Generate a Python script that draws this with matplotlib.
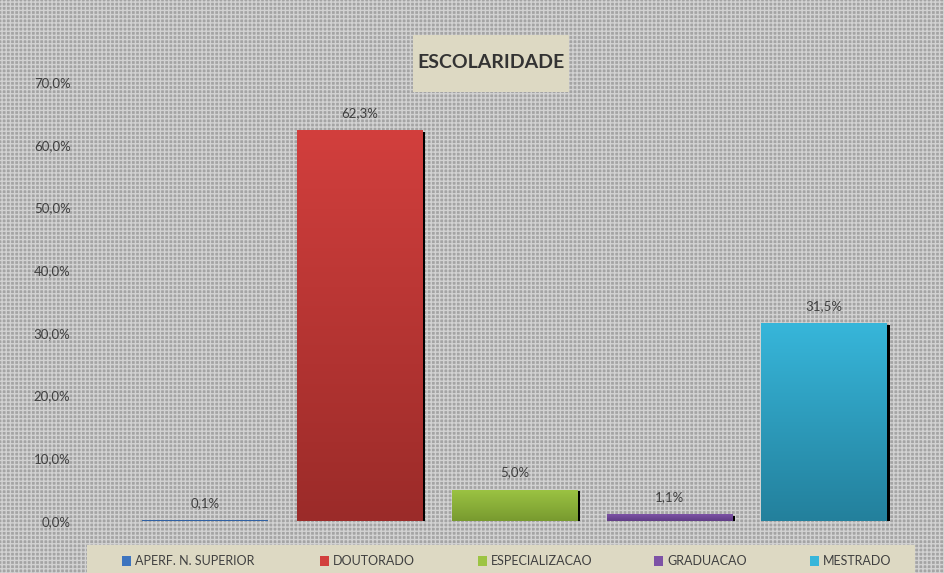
# libraries
import numpy as np
import matplotlib.pyplot as plt
from matplotlib.patches import Rectangle
from matplotlib.colors import LinearSegmentedColormap

plt.rcParams['font.family'] = ['Lato', 'DejaVu Sans']
plt.rcParams['hatch.linewidth'] = 1.0

# data
categories = ['APERF. N. SUPERIOR', 'DOUTORADO', 'ESPECIALIZACAO', 'GRADUACAO', 'MESTRADO']
values = [0.1, 62.3, 5.0, 1.1, 31.5]
value_labels = ['0,1%', '62,3%', '5,0%', '1,1%', '31,5%']
yticks = [0, 10, 20, 30, 40, 50, 60, 70]
ytick_labels = ['0,0%', '10,0%', '20,0%', '30,0%', '40,0%', '50,0%', '60,0%', '70,0%']

# gradient colours (top, bottom) for each bar
top_colors = ['#3d74bf', '#d23f3d', '#9cc443', '#7d52a6', '#37b6da']
bottom_colors = ['#2f5e9e', '#9b2b29', '#789a2f', '#603d85', '#23809c']

W, H = 945, 573
fig = plt.figure(figsize=(W / 100, H / 100), dpi=100)
fig.patch.set_facecolor('#b8b8b8')

# hatched grey background over the whole figure
bg = fig.add_axes([0, 0, 1, 1])
bg.set_axis_off()
bg.add_patch(Rectangle((0, 0), 1, 1, transform=bg.transAxes, facecolor='#a4a4a4',
                       edgecolor='#d2d2d2', hatch='++++', linewidth=0))
bg.set_xlim(0, 1)
bg.set_ylim(0, 1)

# plot area
ax = fig.add_axes([127.5 / W, (H - 521) / H, (901.5 - 127.5) / W, (521 - 82) / H])
ax.patch.set_alpha(0)
for s in ax.spines.values():
    s.set_visible(False)

x = np.arange(len(categories))
barWidth = 0.81
ax.set_xlim(-0.5, len(categories) - 0.5)
ax.set_ylim(0, 70)

shadow_dx = 0.02
for i, v in enumerate(values):
    # shadow
    ax.bar(x[i] + shadow_dx, v, width=barWidth, bottom=-0.25, color='black', zorder=2)
    bar = ax.bar(x[i], v, width=barWidth, color=top_colors[i], zorder=3)[0]
    cmap = LinearSegmentedColormap.from_list('g%d' % i, [bottom_colors[i], top_colors[i]])
    grad = np.linspace(0, 1, 256).reshape(-1, 1)
    im = ax.imshow(grad, cmap=cmap, aspect='auto', origin='lower', zorder=4,
                   extent=[x[i] - barWidth / 2, x[i] + barWidth / 2, 0, max(v, 0.3)])
    im.set_clip_path(bar)
    ax.annotate(value_labels[i], xy=(x[i], v), xytext=(0, 8), textcoords='offset points',
                ha='center', va='bottom', fontsize=9.5, color='#404040', zorder=5)

ax.set_xticks([])
ax.set_yticks(yticks)
ax.set_yticklabels(ytick_labels, fontsize=9.5, color='#404040')
ax.tick_params(axis='y', length=0, pad=41)
ax.set_aspect('auto')

# title box
bg.add_patch(Rectangle((413 / W, (H - 92) / H), (569 - 413) / W, (92 - 35) / H,
                       transform=bg.transAxes, facecolor='#ddd9c3', edgecolor='none', zorder=3))
bg.text(491 / W, (H - 63) / H, 'ESCOLARIDADE', transform=bg.transAxes, ha='center',
        va='center', fontsize=14, fontweight='bold', color='#333333', zorder=4)

# legend box
lx0, lx1, ly0, ly1 = 87, 915, 545, 573
bg.add_patch(Rectangle((lx0 / W, (H - ly1) / H), (lx1 - lx0) / W, (ly1 - ly0) / H,
                       transform=bg.transAxes, facecolor='#ddd9c3', edgecolor='none', zorder=3))
legend_x = [122, 320, 478, 654, 810]
for i, name in enumerate(categories):
    bg.add_patch(Rectangle((legend_x[i] / W, (H - 566) / H), 9 / W, 10 / H,
                           transform=bg.transAxes, facecolor=top_colors[i], edgecolor='none', zorder=4))
    bg.text((legend_x[i] + 13) / W, (H - 561) / H, name, transform=bg.transAxes,
            ha='left', va='center', fontsize=9, color='#404040', zorder=4)

fig.savefig('out.png', dpi=100, facecolor=fig.get_facecolor())
